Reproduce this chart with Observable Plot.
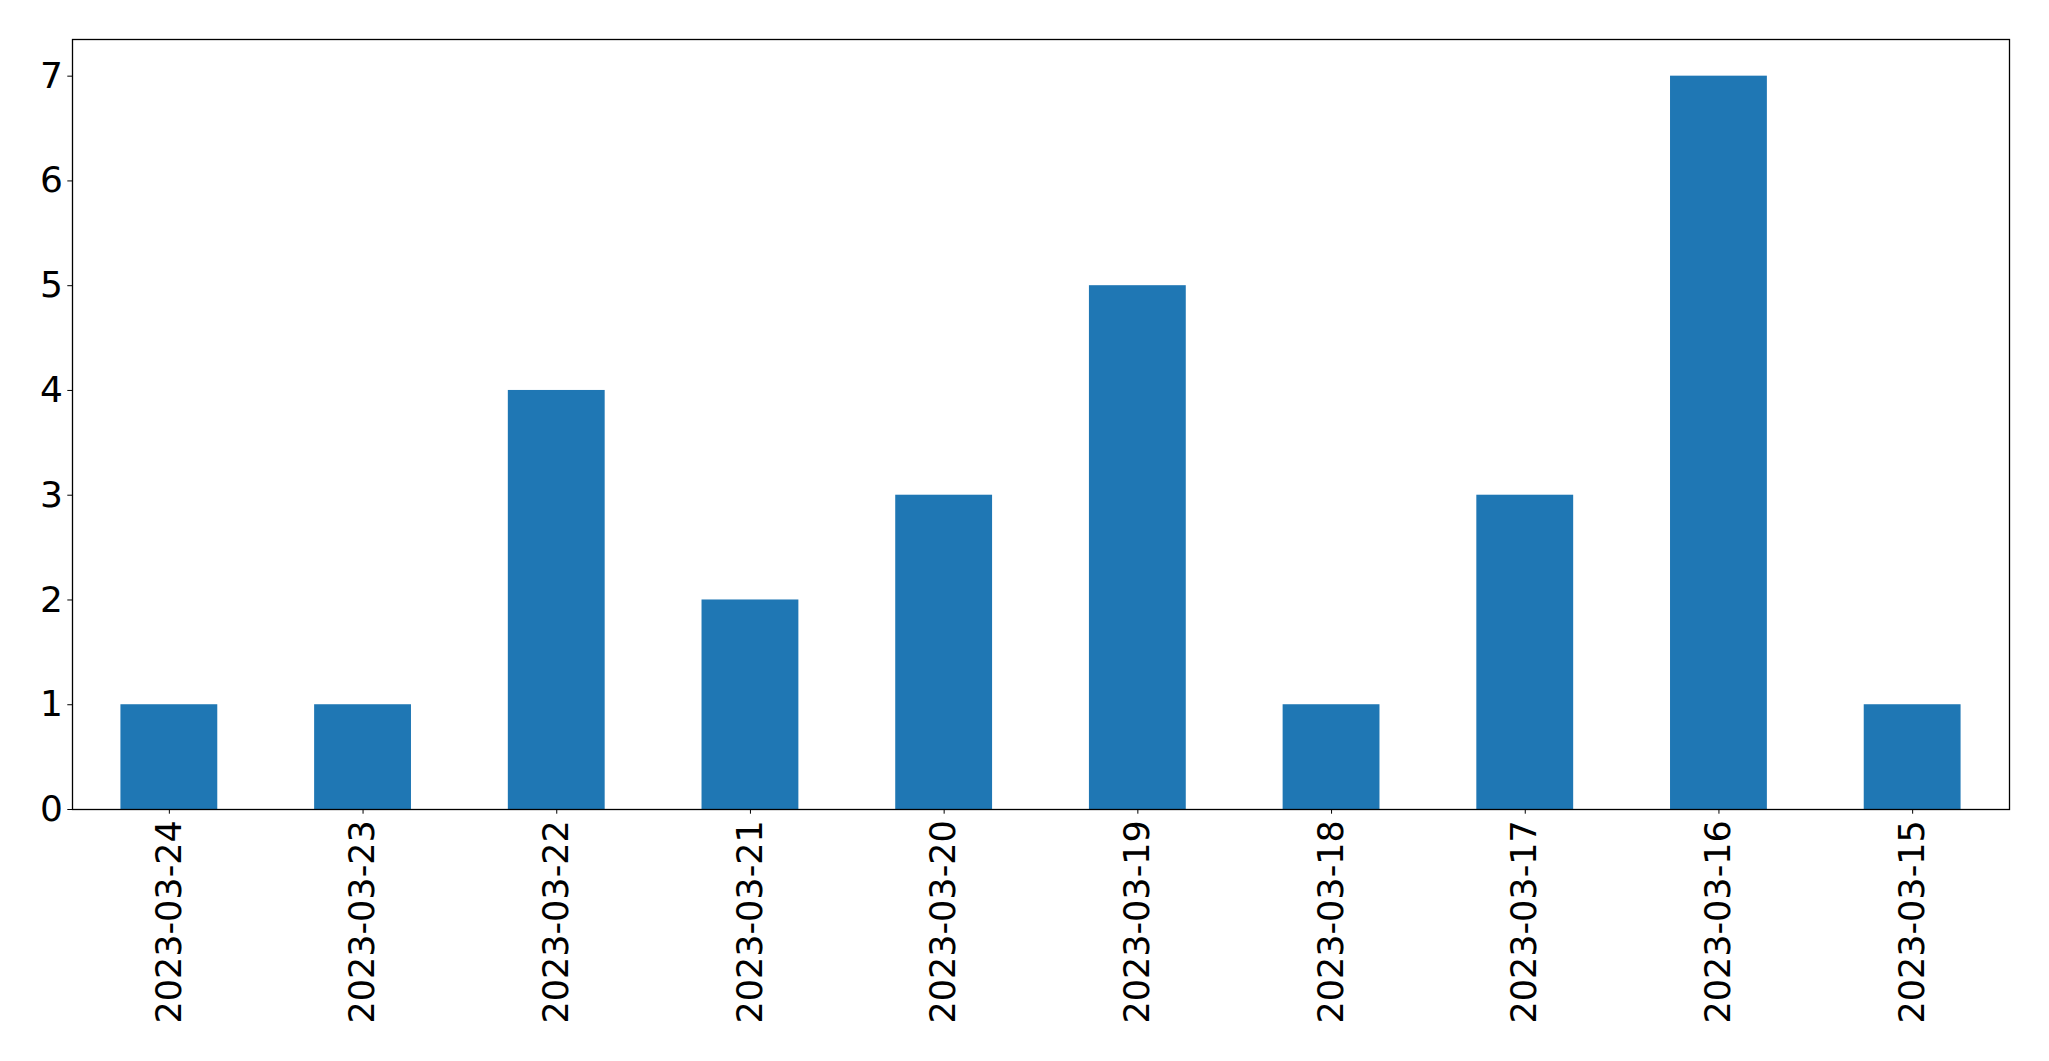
<!DOCTYPE html>
<html>
<head>
<meta charset="utf-8">
<script src="https://cdn.jsdelivr.net/npm/d3@7"></script>
<script src="https://cdn.jsdelivr.net/npm/@observablehq/plot@0.6"></script>
<style>
  html, body { margin: 0; padding: 0; background: #fff; }
  #chart svg { display: block; }
</style>
</head>
<body>
<div id="chart"></div>
<script>
const dates = ["2023-03-24","2023-03-23","2023-03-22","2023-03-21","2023-03-20","2023-03-19","2023-03-18","2023-03-17","2023-03-16","2023-03-15"];
const counts = [1, 1, 4, 2, 3, 5, 1, 3, 7, 1];
const yTicks = [0, 1, 2, 3, 4, 5, 6, 7];

const data = dates.map((d, i) => ({date: d, count: counts[i]}));

const chart = Plot.plot({
  width: 2049,
  height: 1061,
  marginLeft: 72,
  marginRight: 40,
  marginTop: 39,
  marginBottom: 252,
  style: {fontFamily: "DejaVu Sans", fontSize: "35.5px", color: "#000", background: "#fff"},
  x: {domain: dates, paddingInner: 0.5, paddingOuter: 0.25, round: false, label: null},
  y: {domain: [0, 7.35], label: null},
  marks: [
    Plot.barY(data, {x: "date", y: "count", fill: "#1f77b4"}),
    Plot.axisY({ticks: yTicks, tickFormat: d3.format("d"), tickSize: 4.7, tickPadding: 5, fontSize: 36, label: null, stroke: "#000"}),
    Plot.axisX({tickRotate: -90, tickSize: 4.7, tickPadding: 6, fontSize: 35, label: null, stroke: "#000"}),
    Plot.frame({stroke: "#000", strokeWidth: 1.3})
  ]
});
document.getElementById("chart").appendChild(chart);
</script>
</body>
</html>
